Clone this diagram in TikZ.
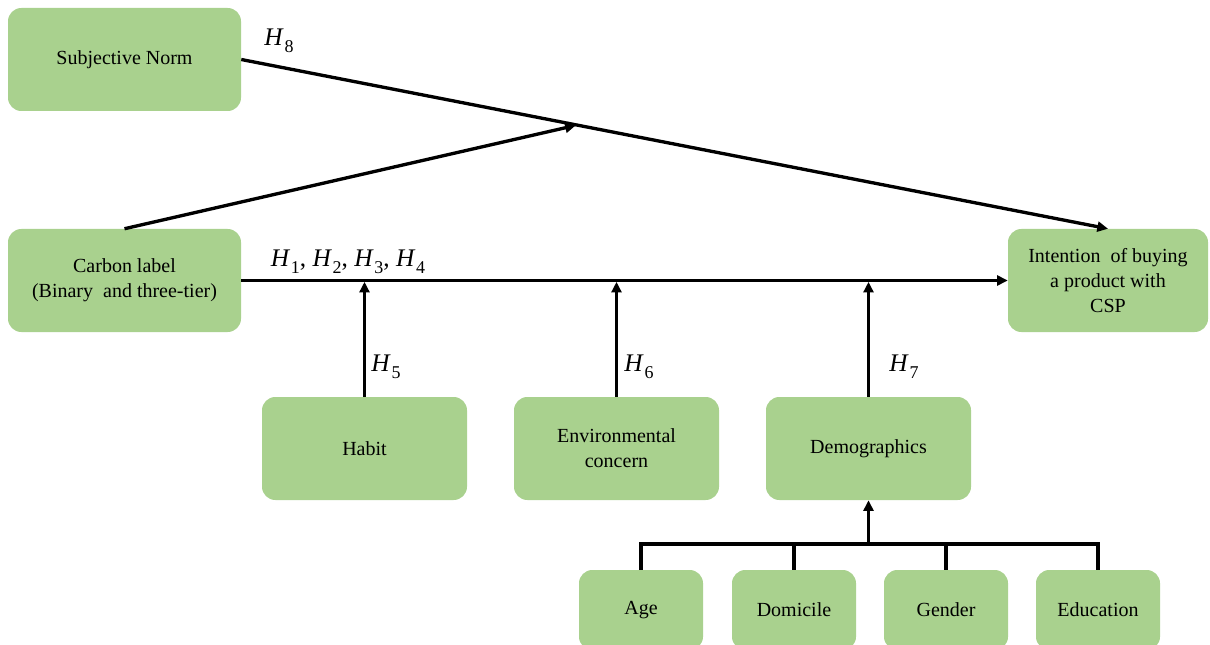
\documentclass[tikz,border=0pt]{standalone}
\usepackage{fontspec}
\setmainfont{Liberation Serif}
\usetikzlibrary{arrows.meta,calc}
\definecolor{boxgreen}{HTML}{A9D18E}
\newcommand\hsub[1]{\textit{H}\kern0.5pt\raisebox{-0.28em}{\fontsize{13.5}{14}\selectfont #1}}
\begin{document}
\begin{tikzpicture}[x=0.75pt,y=-0.75pt,
  box/.style={draw=none,fill=boxgreen,rounded corners=10pt,align=center,inner sep=0pt,
    font=\fontsize{15}{18.75}\selectfont},
  bigbox/.style={box,minimum width=174.75pt,minimum height=77.25pt},
  midbox/.style={box,minimum width=153.75pt,minimum height=77.25pt},
  smallbox/.style={box,minimum width=93pt,minimum height=60pt},
  conn/.style={line width=2.5pt,draw=black},
  arr/.style={conn,-{Triangle[length=8pt,width=7.5pt]}},
  hlab/.style={font=\fontsize{19}{22}\selectfont,inner sep=0pt}]
\useasboundingbox (0,0) rectangle (1210,645);
\clip (0,0) rectangle (1210,645);
\node[bigbox] (sn) at (124.5,59.5) {Subjective Norm};
\node[bigbox] (cl) at (124.5,280.5) {Carbon label\\(Binary~ and three-tier)};
\node[box,minimum width=150pt,minimum height=77.25pt] (int) at (1108,280.5) {Intention~ of buying\\a product with\\CSP};
\node[midbox] (habit) at (364.5,448.5) {Habit};
\node[midbox] (env) at (616.5,448.5) {Environmental\\concern};
\node[midbox] (demo) at (868.5,448.5) {Demographics};
\node[smallbox] (age) at (641,610) {Age};
\node[smallbox] (dom) at (794,610) {Domicile};
\node[smallbox] (gen) at (946,610) {Gender};
\node[smallbox] (edu) at (1098,610) {Education};
% connectors
\coordinate (m) at ($(sn.east)!0.3875!(int.north)$);
\draw[arr] (sn.east) -- (int.north);
\draw[arr,shorten >=1pt] (cl.north) -- (m);
\draw[arr] (cl.east) -- (int.west);
\draw[arr,shorten >=1pt] (habit.north) -- (habit.north |- cl.east);
\draw[arr,shorten >=1pt] (env.north) -- (env.north |- cl.east);
\draw[arr,shorten >=1pt] (demo.north) -- (demo.north |- cl.east);
\coordinate (busy) at (0,544);
\draw[conn] (age.north) -- (age.north |- busy) -- (edu.north |- busy) -- (edu.north);
\draw[conn] (dom.north) -- (dom.north |- busy);
\draw[conn] (gen.north) -- (gen.north |- busy);
\draw[arr] (demo.south |- busy) -- (demo.south);
% labels
\node[hlab] (h8) at (279,41) {\hsub{8}};
\node[hlab] (h14) at (348,262) {\hsub{1}, \hsub{2}, \hsub{3}, \hsub{4}};
\node[hlab] (h5) at (386,367) {\hsub{5}};
\node[hlab] (h6) at (639,367) {\hsub{6}};
\node[hlab] (h7) at (904,367) {\hsub{7}};
\end{tikzpicture}
\end{document}
